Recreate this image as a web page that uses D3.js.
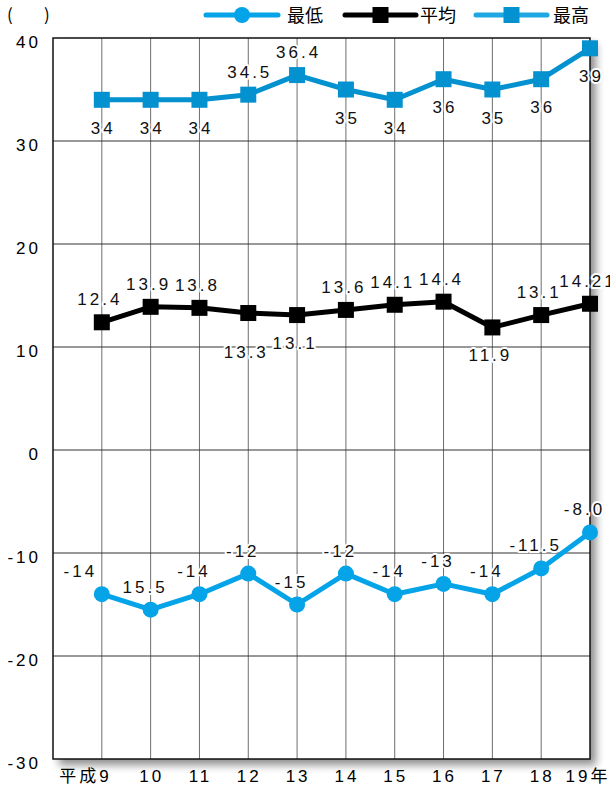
<!DOCTYPE html>
<html>
<head>
<meta charset="utf-8">
<script src="https://cdn.jsdelivr.net/npm/d3@7"></script>
<style>
 body { margin: 0; background: #fff; }
 text { font-family: "Liberation Sans", Arial, sans-serif; }
</style>
</head>
<body>
<div id="chart"></div>
<script>
// data
var years = [9, 10, 11, 12, 13, 14, 15, 16, 17, 18, 19];
var yearLabels = ["平成9", "10", "11", "12", "13", "14", "15", "16", "17", "18", "19年"];
var yTicks = [40, 30, 20, 10, 0, -10, -20, -30];

var maxVals = [34, 34, 34, 34.5, 36.4, 35, 34, 36, 35, 36, 39];
var maxText = ["34", "34", "34", "34.5", "36.4", "35", "34", "36", "35", "36", "39"];
var maxSide = ["b", "b", "b", "a", "a", "b", "b", "b", "b", "b", "b"];

var avgVals = [12.4, 13.9, 13.8, 13.3, 13.1, 13.6, 14.1, 14.4, 11.9, 13.1, 14.2];
var avgText = ["12.4", "13.9", "13.8", "13.3", "13.1", "13.6", "14.1", "14.4", "11.9", "13.1", "14.21"];
var avgSide = ["a", "a", "a", "bb", "b", "a", "a", "a", "b", "a", "a"];

var minVals = [-14, -15.5, -14, -12, -15, -12, -14, -13, -14, -11.5, -8.0];
var minText = ["-14", "15.5", "-14", "-12", "-15", "-12", "-14", "-13", "-14", "-11.5", "-8.0"];
var minSide = ["al", "a", "a", "a", "a", "a", "a", "a", "a", "a", "a"];

var seriesNames = ["最低", "平均", "最高"];

var W = 610, H = 787;
var pLeft = 53, pRight = 590, pTop = 38, pBottom = 759;

var svg = d3.select("#chart").append("svg")
  .attr("width", W).attr("height", H);

var defs = svg.append("defs");
var f = defs.append("filter").attr("id", "shadow")
  .attr("x", "-5%").attr("y", "-5%").attr("width", "115%").attr("height", "115%");
f.append("feGaussianBlur").attr("in", "SourceAlpha").attr("stdDeviation", 4).attr("result", "b");
f.append("feOffset").attr("in", "b").attr("dx", 6).attr("dy", 6).attr("result", "o");
f.append("feComponentTransfer").attr("in", "o").attr("result", "o2")
  .append("feFuncA").attr("type", "linear").attr("slope", 0.45);
var fm = f.append("feMerge");
fm.append("feMergeNode").attr("in", "o2");
fm.append("feMergeNode").attr("in", "SourceGraphic");

var x = d3.scaleLinear().domain([8, 19]).range([pLeft, pRight]);
var y = d3.scaleLinear().domain([-30, 40]).range([pBottom, pTop]);

// plot background with shadow
svg.append("rect")
  .attr("x", pLeft).attr("y", pTop)
  .attr("width", pRight - pLeft).attr("height", pBottom - pTop)
  .attr("fill", "#fff")
  .attr("filter", "url(#shadow)");

// grid
svg.selectAll(".vgrid").data(years.slice(0, -1)).enter().append("line")
  .attr("x1", d => x(d)).attr("x2", d => x(d))
  .attr("y1", pTop).attr("y2", pBottom)
  .attr("stroke", "#6e6e6e").attr("stroke-width", 1);

svg.selectAll(".hgrid").data(yTicks.slice(1, -1)).enter().append("line")
  .attr("x1", pLeft).attr("x2", pRight)
  .attr("y1", d => y(d)).attr("y2", d => y(d))
  .attr("stroke", "#333").attr("stroke-width", 1);

svg.append("rect")
  .attr("x", pLeft).attr("y", pTop)
  .attr("width", pRight - pLeft).attr("height", pBottom - pTop)
  .attr("fill", "none").attr("stroke", "#111").attr("stroke-width", 1.5);

// y tick labels
svg.selectAll(".ytick").data(yTicks).enter().append("text")
  .attr("x", 41).attr("y", d => y(d) + 10)
  .attr("text-anchor", "end")
  .style("font-size", "17px").style("letter-spacing", "3px")
  .text(d => d);

// x labels
svg.selectAll(".xtick").data(years).enter().append("text")
  .attr("x", (d, i) => i === 0 ? x(d) + 10 : (i === years.length - 1 ? x(d) - 2 : x(d) + 1))
  .attr("y", 782)
  .attr("text-anchor", (d, i) => i === 0 ? "end" : "middle")
  .style("font-size", "17px").style("letter-spacing", "3px")
  .style("font-family", "'Liberation Sans', 'Noto Sans CJK JP', sans-serif")
  .text((d, i) => yearLabels[i]);

var line = d3.line()
  .x((d, i) => x(years[i]))
  .y(d => y(d));

function drawSeries(vals, color, shape) {
  svg.append("path").datum(vals)
    .attr("d", line)
    .attr("fill", "none")
    .attr("stroke", color)
    .attr("stroke-width", 5)
    .attr("stroke-linejoin", "round");
  if (shape === "circle") {
    svg.selectAll(null).data(vals).enter().append("circle")
      .attr("cx", (d, i) => x(years[i])).attr("cy", d => y(d))
      .attr("r", 8).attr("fill", color);
  } else {
    svg.selectAll(null).data(vals).enter().append("rect")
      .attr("x", (d, i) => x(years[i]) - 8).attr("y", d => y(d) - 8)
      .attr("width", 16).attr("height", 16).attr("fill", color);
  }
}

function drawLabels(vals, texts, sides, dx) {
  svg.selectAll(null).data(vals).enter().append("text")
    .attr("x", (d, i) => x(years[i]) + dx + (sides[i] === "al" ? -16 : 0) + 1.5)
    .attr("y", (d, i) => {
      var s = sides[i];
      if (s === "b") return y(d) + 34;
      if (s === "bb") return y(d) + 45;
      return y(d) - 17;
    })
    .attr("text-anchor", "middle")
    .style("font-size", "17px").style("letter-spacing", "3px")
    .attr("fill", "#111")
    .attr("stroke", "#fff").attr("stroke-width", 4)
    .attr("stroke-linejoin", "round")
    .style("paint-order", "stroke")
    .text((d, i) => texts[i]);
}

var cMin = "#05a3e8", cAvg = "#000", cMax = "#0391cf";

drawSeries(maxVals, cMax, "square");
drawSeries(avgVals, cAvg, "square");
drawSeries(minVals, cMin, "circle");

drawLabels(maxVals, maxText, maxSide, 0);
drawLabels(avgVals, avgText, avgSide, -3.5);
drawLabels(minVals, minText, minSide, -7);

// legend
var legend = [
  { name: seriesNames[0], color: cMin, shape: "circle", x1: 206, x2: 278, tx: 287 },
  { name: seriesNames[1], color: cAvg, shape: "square", x1: 345, x2: 416, tx: 420 },
  { name: seriesNames[2], color: "#1ea7e2", mark: cMax, shape: "square", x1: 476, x2: 547, tx: 553 }
];
var lg = svg.selectAll(".legend").data(legend).enter().append("g");
lg.append("line")
  .attr("x1", d => d.x1).attr("x2", d => d.x2)
  .attr("y1", 15).attr("y2", 15)
  .attr("stroke", d => d.color).attr("stroke-width", 5)
  .attr("stroke-linecap", "round");
lg.each(function(d) {
  var g = d3.select(this), cx = (d.x1 + d.x2) / 2;
  if (d.shape === "circle") {
    g.append("circle").attr("cx", cx).attr("cy", 15).attr("r", 8).attr("fill", d.color);
  } else {
    g.append("rect").attr("x", cx - 8).attr("y", 7).attr("width", 16).attr("height", 16)
      .attr("fill", d.mark || d.color);
  }
});
lg.append("text")
  .attr("x", d => d.tx).attr("y", 22)
  .style("font-size", "18px")
  .style("font-family", "'Noto Sans CJK JP', sans-serif")
  .text(d => d.name);

// unit brackets
svg.append("text").attr("x", 7).attr("y", 21).style("font-size", "17px")
  .style("font-family", "'Noto Sans CJK JP', sans-serif").text("(");
svg.append("text").attr("x", 44).attr("y", 21).style("font-size", "17px")
  .style("font-family", "'Noto Sans CJK JP', sans-serif").text(")");
</script>
</body>
</html>
